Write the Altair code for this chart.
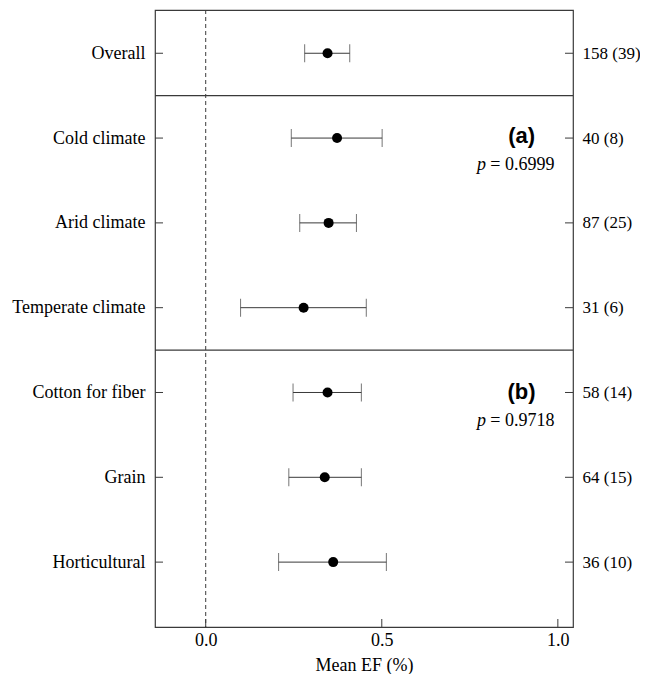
import altair as alt
import pandas as pd

# ---- data ----
groups = ["Overall", "Cold climate", "Arid climate", "Temperate climate",
          "Cotton for fiber", "Grain", "Horticultural"]
rows = [0, 1, 2, 3, 4, 5, 6]
means = [0.346, 0.373, 0.349, 0.278, 0.346, 0.338, 0.362]
lower = [0.281, 0.243, 0.267, 0.099, 0.248, 0.236, 0.207]
upper = [0.409, 0.501, 0.428, 0.456, 0.442, 0.442, 0.513]
counts = ["158 (39)", "40 (8)", "87 (25)", "31 (6)", "58 (14)", "64 (15)", "36 (10)"]
dividers = [0.5, 3.5]
x_ticks = [0.0, 0.5, 1.0]
panel_labels = ["(a)", "(b)"]
panel_label_rows = [0.97, 4.0]
panel_p = ["= 0.6999", "= 0.9718"]
panel_p_rows = [1.32, 4.34]

W, H = 418, 617
SERIF = "Liberation Serif"
FS = 18
LINE = "#3a3a3a"

df = pd.DataFrame({"group": groups, "row": rows, "mean": means,
                   "lo": lower, "hi": upper, "n": counts})
ann = pd.DataFrame({"lab": panel_labels, "lrow": panel_label_rows,
                    "p": panel_p, "prow": panel_p_rows})

xs = alt.Scale(domain=[-0.144, 1.043], nice=False, zero=False)
ys = alt.Scale(domain=[-0.51, 6.765], reverse=True, nice=False, zero=False)

label_expr = "[" + ",".join("'" + g + "'" for g in groups) + "][datum.value]"
count_expr = "[" + ",".join("'" + c + "'" for c in counts) + "][datum.value]"

base = alt.Chart(df)

# left axis carried by the bar layer
bars = base.mark_rule(color=LINE, strokeWidth=1).encode(
    x=alt.X("lo:Q", scale=xs, axis=alt.Axis(
        values=x_ticks, format=".1f", tickSize=0, domain=False, grid=False,
        labelFont=SERIF, labelFontSize=FS, labelColor="black", labelPadding=4,
        title="Mean EF (%)", titleFont=SERIF, titleFontSize=FS,
        titleFontWeight="normal", titleColor="black",
        titleBaseline="alphabetic", titleY=43)),
    x2="hi:Q",
    y=alt.Y("row:Q", scale=ys, axis=alt.Axis(
        orient="left", values=rows, labelExpr=label_expr, tickSize=0,
        domain=False, grid=False, labelFont=SERIF, labelFontSize=FS,
        labelColor="black", labelPadding=10, title=None)),
)

# right axis carried by the lower-cap layer
caps_lo = base.mark_tick(orient="vertical", size=18, thickness=1, color=LINE).encode(
    x=alt.X("lo:Q", scale=xs),
    y=alt.Y("row:Q", scale=ys, axis=alt.Axis(
        orient="right", values=rows, labelExpr=count_expr, tickSize=0,
        domain=False, grid=False, labelFont=SERIF, labelFontSize=17,
        labelColor="black", labelPadding=9, title=None)),
)
caps_hi = base.mark_tick(orient="vertical", size=18, thickness=1, color=LINE).encode(
    x=alt.X("hi:Q", scale=xs),
    y=alt.Y("row:Q", scale=ys, axis=None),
)

points = base.mark_circle(size=100, color="black", opacity=1).encode(
    x=alt.X("mean:Q", scale=xs),
    y=alt.Y("row:Q", scale=ys, axis=None),
)

zero_line = alt.Chart(pd.DataFrame({"z": [0.0]})).mark_rule(
    color=LINE, strokeDash=[4, 3], strokeWidth=1).encode(
    x=alt.X("z:Q", scale=xs))

div_lines = alt.Chart(pd.DataFrame({"d": dividers})).mark_rule(
    color=LINE, strokeWidth=1.2).encode(
    y=alt.Y("d:Q", scale=ys, axis=None))

# inward ticks
tick_df = pd.DataFrame({"row": rows})
left_ticks = alt.Chart(tick_df).mark_rule(color=LINE, strokeWidth=1).encode(
    y=alt.Y("row:Q", scale=ys, axis=None), x=alt.value(0), x2=alt.value(8))
right_ticks = alt.Chart(tick_df).mark_rule(color=LINE, strokeWidth=1).encode(
    y=alt.Y("row:Q", scale=ys, axis=None), x=alt.value(W - 8), x2=alt.value(W))
bottom_ticks = alt.Chart(pd.DataFrame({"t": x_ticks})).mark_rule(
    color=LINE, strokeWidth=1).encode(
    x=alt.X("t:Q", scale=xs), y=alt.value(H - 8), y2=alt.value(H))

ann_base = alt.Chart(ann)
lab_text = ann_base.transform_calculate(xx="0.897").mark_text(
    font="Liberation Sans", fontWeight="bold", fontSize=22, color="black").encode(
    x=alt.X("xx:Q", scale=xs), y=alt.Y("lrow:Q", scale=ys, axis=None), text="lab:N")
p_text = ann_base.transform_calculate(xx="0.796", pp="'p'").mark_text(
    font=SERIF, fontStyle="italic", fontSize=FS, color="black", align="right").encode(
    x=alt.X("xx:Q", scale=xs), y=alt.Y("prow:Q", scale=ys, axis=None), text="pp:N")
pv_text = ann_base.transform_calculate(xx="0.808").mark_text(
    font=SERIF, fontSize=FS, color="black", align="left").encode(
    x=alt.X("xx:Q", scale=xs), y=alt.Y("prow:Q", scale=ys, axis=None), text="p:N")

chart = alt.layer(
    zero_line, div_lines, bars, caps_lo, caps_hi, points,
    left_ticks, right_ticks, bottom_ticks, lab_text, p_text, pv_text
).resolve_axis(y="independent").properties(
    width=W, height=H,
    autosize=alt.AutoSizeParams(type="none"),
    padding={"left": 147, "top": 2, "right": 67, "bottom": 47},
).configure_view(stroke=LINE, strokeWidth=1.2)

chart.save("out.html", embed_options={"renderer": "svg", "actions": False})
